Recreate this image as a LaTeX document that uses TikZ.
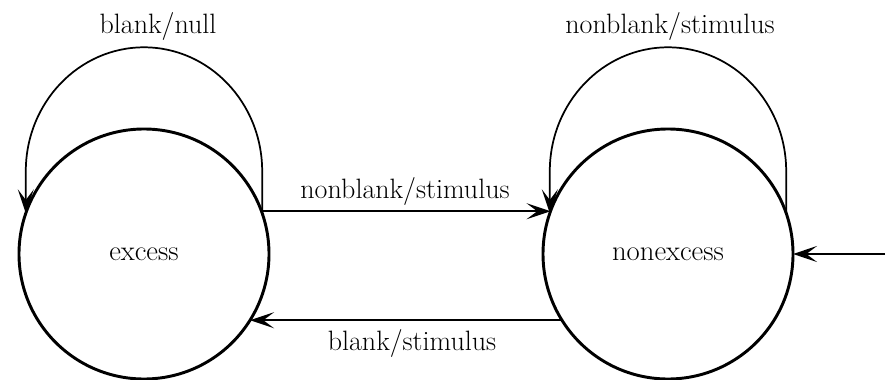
\documentclass[tikz,border=0pt]{standalone}
\usetikzlibrary{arrows.meta}
\begin{document}
\begin{tikzpicture}[x=0.75pt,y=0.75pt,
  state/.style={circle,draw,line width=2.2pt,minimum size=187.5pt,inner sep=0pt,outer sep=0pt},
  conn/.style={line width=1.3pt,-{Stealth[length=18pt,width=12pt,inset=8pt]}},
  lbl/.style={font=\fontsize{21}{25}\selectfont,inner sep=1pt}]
\useasboundingbox (0,0) rectangle (888,379);
\node[state,font=\fontsize{21.5}{25}\selectfont] (ex) at (144,125) {excess};
\node[state,font=\fontsize{21.5}{25}\selectfont] (no) at (668,125) {nonexcess};
\coordinate (init) at (885,125);
% self loops
\draw[conn] (ex.19) -- ++(0,42) arc[start angle=0,end angle=180,x radius=118.2,y radius=124] -- (ex.161);
\draw[conn] (no.19) -- ++(0,42) arc[start angle=0,end angle=180,x radius=118.2,y radius=124] -- (no.161);
% transitions
\draw[conn] (ex.20) -- (no.160);
\draw[conn] (no.212) -- (ex.328);
\draw[conn] (init) -- (no);
% labels
\node[lbl] (l1) at (158,352) {blank/null};
\node[lbl] (l2) at (670,352) {nonblank/stimulus};
\node[lbl] (l3) at (405,188) {nonblank/stimulus};
\node[lbl] (l4) at (412,36) {blank/stimulus};
\end{tikzpicture}
\end{document}
